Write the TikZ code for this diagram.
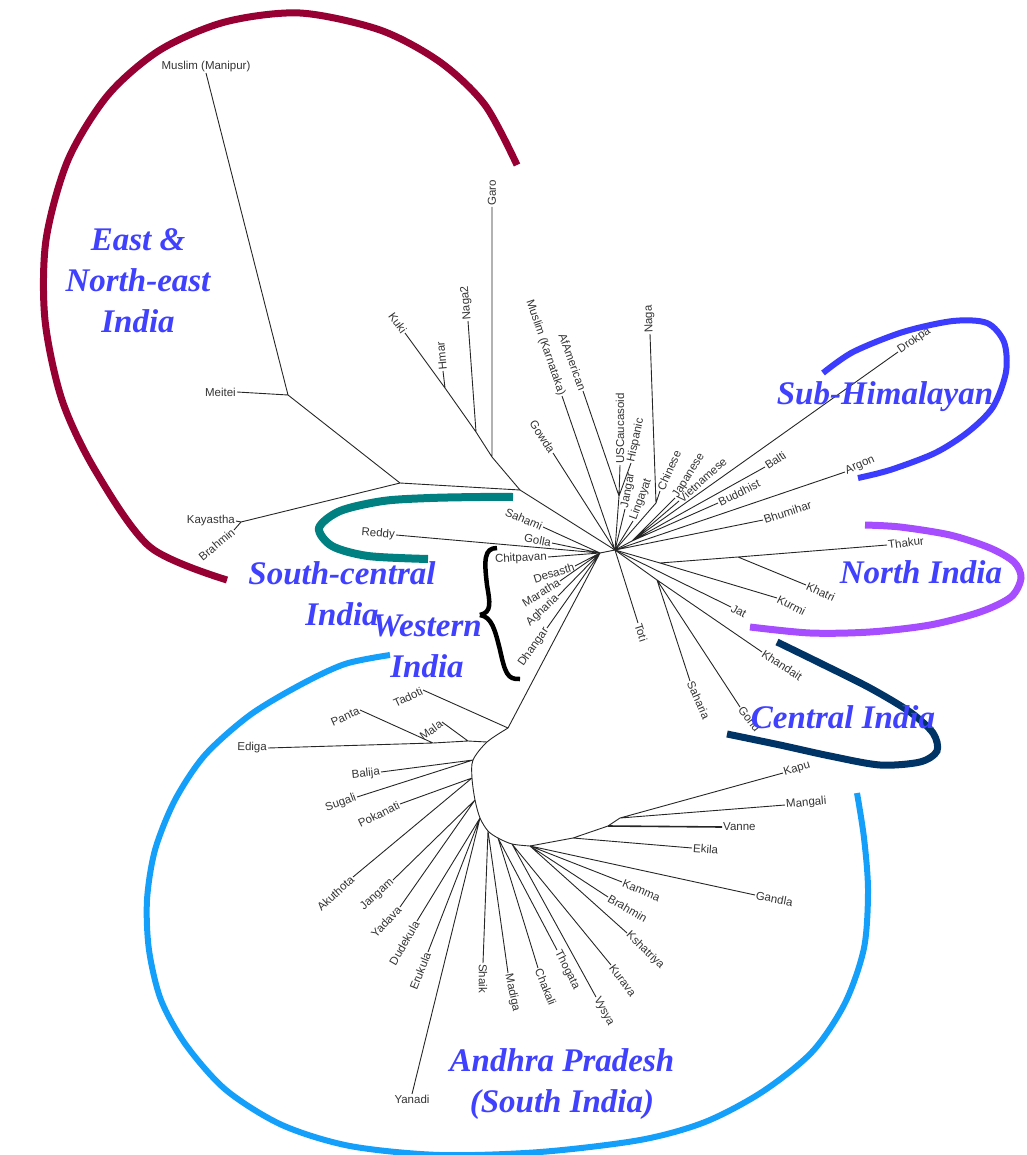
\documentclass[tikz,border=0pt]{standalone}
\usepackage{fontspec}
\newfontfamily\leaffont{Liberation Sans}
\newfontfamily\regionfont{Liberation Serif}
\definecolor{neindia}{RGB}{150,0,50}
\definecolor{scindia}{RGB}{0,128,128}
\definecolor{shindia}{RGB}{60,60,255}
\definecolor{nindia}{RGB}{166,77,255}
\definecolor{cindia}{RGB}{0,51,102}
\definecolor{apindia}{RGB}{20,160,250}
\definecolor{regionblue}{RGB}{64,64,255}
\tikzset{
  leaf/.style={font=\leaffont\fontsize{11.5}{13}\selectfont, text=black!80, inner sep=1pt},
  region/.style={font=\regionfont\bfseries\itshape\fontsize{33}{41}\selectfont, text=regionblue, align=center},
  branch/.style={line width=0.9pt, black!85},
  cluster/.style={line width=#1},
}
\begin{document}
\begin{tikzpicture}[x=1pt, y=-1pt]
        \useasboundingbox (0,0) rectangle (1026,1155);
        \coordinate (hub) at (615,550);
        \coordinate (hubw) at (600,553);
        \coordinate (u1) at (619,496);
        \coordinate (n1) at (656,503);
        \coordinate (ru) at (632,541);
        \coordinate (nc) at (660,563);
        \coordinate (nk) at (738,557);
        \coordinate (cn) at (657,580);
        \coordinate (ne1) at (520,490);
        \coordinate (g0) at (492,457);
        \coordinate (n2) at (476,432);
        \coordinate (hm) at (445,388);
        \coordinate (mm) at (400,483);
        \coordinate (me) at (288,395);
        \coordinate (kb) at (241,522);
        \coordinate (s0) at (508,728);
        \coordinate (s1) at (487,742);
        \coordinate (a3) at (468,741);
        \coordinate (a4) at (433,743);
        \coordinate (s2) at (473,760);
        \coordinate (s3) at (472,778);
        \coordinate (s4) at (475,800);
        \coordinate (s5) at (480,818);
        \coordinate (s6) at (488,831);
        \coordinate (s7) at (498,838);
        \coordinate (s8) at (512,844);
        \coordinate (s9) at (530,846);
        \coordinate (k1) at (573,838);
        \coordinate (k2) at (608,826);
        \coordinate (k3) at (620,818);

        \node [leaf, anchor=south] (mmanipur) at (206,73) {Muslim (Manipur)};
        \node [leaf, anchor=east] (meitei) at (237,392) {Meitei};
        \node [leaf, anchor=east] (kayastha) at (236,521) {Kayastha};
        \node [leaf, anchor=east, rotate=40] (brahminne) at (234,530) {Brahmin};
        \node [leaf, anchor=west, rotate=90] (garo) at (492,207) {Garo};
        \node [leaf, anchor=west, rotate=95] (nagatwo) at (468,321) {Naga2};
        \node [leaf, anchor=west, rotate=95] (hmar) at (443,371) {Hmar};
        \node [leaf, anchor=east, rotate=-54] (kuki) at (405,333) {Kuki};
        \node [leaf, anchor=east, rotate=-71] (muslimk) at (562,396) {Muslim (Karnataka)};
        \node [leaf, anchor=east, rotate=-70] (afam) at (583,391) {AfAmerican};
        \node [leaf, anchor=east, rotate=-57] (gowda) at (553,453) {Gowda};
        \node [leaf, anchor=west, rotate=90] (uscauc) at (620,465) {USCaucasoid};
        \node [leaf, anchor=west, rotate=78] (hispanic) at (631,463) {Hispanic};
        \node [leaf, anchor=west, rotate=80] (jangar) at (625,509) {Jangar};
        \node [leaf, anchor=west, rotate=70] (lingayat) at (633,521) {Lingayat};
        \node [leaf, anchor=west, rotate=92] (naga) at (650,334) {Naga};
        \node [leaf, anchor=west, rotate=66] (chinese) at (660,491) {Chinese};
        \node [leaf, anchor=west, rotate=58] (japanese) at (675,498) {Japanese};
        \node [leaf, anchor=west, rotate=42] (vietnamese) at (679,501) {Vietnamese};
        \node [leaf, anchor=west, rotate=33] (balti) at (765,467) {Balti};
        \node [leaf, anchor=west, rotate=35] (drokpa) at (898,352) {Drokpa};
        \node [leaf, anchor=west, rotate=26] (buddhist) at (718,503) {Buddhist};
        \node [leaf, anchor=west, rotate=24] (argon) at (845,472) {Argon};
        \node [leaf, anchor=west, rotate=18] (bhumihar) at (763,520) {Bhumihar};
        \node [leaf, anchor=west, rotate=7] (thakur) at (887,545) {Thakur};
        \node [leaf, anchor=west, rotate=-25] (khatri) at (806,585) {Khatri};
        \node [leaf, anchor=west, rotate=-27] (kurmi) at (777,598) {Kurmi};
        \node [leaf, anchor=west, rotate=-28] (jat) at (731,607) {Jat};
        \node [leaf, anchor=west, rotate=-33] (khandait) at (762,652) {Khandait};
        \node [leaf, anchor=west, rotate=-52] (gond) at (740,707) {Gond};
        \node [leaf, anchor=west, rotate=-66] (saharia) at (690,681) {Saharia};
        \node [leaf, anchor=west, rotate=-72] (toti) at (638,623) {Toti};
        \node [leaf, anchor=east, rotate=-23] (sahami) at (543,527) {Sahami};
        \node [leaf, anchor=east, rotate=-11] (golla) at (552,543) {Golla};
        \node [leaf, anchor=east, rotate=-4] (reddy) at (396,535) {Reddy};
        \node [leaf, anchor=east, rotate=3] (chitpavan) at (548,557) {Chitpavan};
        \node [leaf, anchor=east, rotate=18] (desasth) at (575,566) {Desasth};
        \node [leaf, anchor=east, rotate=32] (maratha) at (560,581) {Maratha};
        \node [leaf, anchor=east, rotate=43] (agharia) at (558,596) {Agharia};
        \node [leaf, anchor=east, rotate=55] (dhangar) at (547,628) {Dhangar};
        \node [leaf, anchor=east, rotate=25] (tadoti) at (423,690) {Tadoti};
        \node [leaf, anchor=east, rotate=36] (mala) at (442,722) {Mala};
        \node [leaf, anchor=east, rotate=24] (panta) at (360,710) {Panta};
        \node [leaf, anchor=east, rotate=-1] (ediga) at (268,748) {Ediga};
        \node [leaf, anchor=east, rotate=6] (balija) at (381,772) {Balija};
        \node [leaf, anchor=east, rotate=20] (sugali) at (357,797) {Sugali};
        \node [leaf, anchor=east, rotate=26] (pokanati) at (400,804) {Pokanati};
        \node [leaf, anchor=east, rotate=43] (akuthota) at (353,877) {Akuthota};
        \node [leaf, anchor=east, rotate=43] (jangam) at (393,880) {Jangam};
        \node [leaf, anchor=east, rotate=47] (yadava) at (400,907) {Yadava};
        \node [leaf, anchor=east, rotate=60] (dudekula) at (417,921) {Dudekula};
        \node [leaf, anchor=east, rotate=68] (erukula) at (428,952) {Erukula};
        \node [leaf, anchor=north] (yanadi) at (412,1094) {Yanadi};
        \node [leaf, anchor=west, rotate=-90] (shaik) at (483,963) {Shaik};
        \node [leaf, anchor=west, rotate=-78] (madiga) at (508,973) {Madiga};
        \node [leaf, anchor=west, rotate=-68] (chakali) at (538,968) {Chakali};
        \node [leaf, anchor=west, rotate=-63] (thogata) at (557,950) {Thogata};
        \node [leaf, anchor=west, rotate=-62] (vysya) at (596,997) {Vysya};
        \node [leaf, anchor=west, rotate=-53] (kurava) at (611,965) {Kurava};
        \node [leaf, anchor=west, rotate=-44] (kshatriya) at (627,933) {Kshatriya};
        \node [leaf, anchor=west, rotate=-30] (brahminap) at (608,897) {Brahmin};
        \node [leaf, anchor=west, rotate=-23] (kamma) at (622,882) {Kamma};
        \node [leaf, anchor=west, rotate=-11] (gandla) at (755,895) {Gandla};
        \node [leaf, anchor=west, rotate=-4] (ekila) at (692,848) {Ekila};
        \node [leaf, anchor=west] (vanne) at (722,827) {Vanne};
        \node [leaf, anchor=west, rotate=5] (mangali) at (785,805) {Mangali};
        \node [leaf, anchor=west, rotate=17] (kapu) at (783,773) {Kapu};

        \draw [branch] (hub) -- (u1) (hub) -- (n1) (hub) -- (ru) (hub) -- (nc) (hub) -- (cn) (hub) -- (hubw) (hub) -- (ne1);
        \draw [branch] (hub) -- (muslimk.east) (hub) -- (gowda.east) (hub) -- (jangar.west) (hub) -- (lingayat.west);
        \draw [branch] (hub) -- (argon.west) (hub) -- (bhumihar.west) (hub) -- (jat.west) (hub) -- (toti.west);
        \draw [branch] (u1) -- (uscauc.west) (u1) -- (afam.east) (u1) -- (hispanic.west);
        \draw [branch] (n1) -- (naga.west) (n1) -- (chinese.west);
        \draw [branch] (ru) -- (japanese.west) (ru) -- (vietnamese.west) (ru) -- (balti.west) (ru) -- (drokpa.west) (ru) -- (buddhist.west);
        \draw [branch] (nc) -- (nk) -- (thakur.west) (nk) -- (khatri.west) (nc) -- (kurmi.west);
        \draw [branch] (cn) -- (khandait.west) (cn) -- (gond.west) (cn) -- (saharia.west);
        \draw [branch] (hubw) -- (sahami.east) (hubw) -- (golla.east) (hubw) -- (reddy.east) (hubw) -- (chitpavan.east);
        \draw [branch] (hubw) -- (desasth.east) (hubw) -- (maratha.east) (hubw) -- (agharia.east) (hubw) -- (dhangar.east) (hubw) -- (s0);
        \draw [branch] (ne1) -- (g0) -- (garo.west) (g0) -- (n2) -- (nagatwo.west) (n2) -- (hm) -- (hmar.west) (hm) -- (kuki.east);
        \draw [branch] (ne1) -- (mm) -- (me) -- (mmanipur.south) (me) -- (meitei.east);
        \draw [branch] (mm) -- (kb) -- (kayastha.east) (kb) -- (brahminne.east);
        \draw [branch] (s0) -- (tadoti.east) (s1) -- (a3) -- (a4) -- (ediga.east) (a3) -- (mala.east) (a4) -- (panta.east);
        \draw [branch] plot [smooth] coordinates {(s0) (s1) (s2) (s3) (s4) (s5) (s6) (s7) (s8) (s9)};
        \draw [branch] (s9) -- (k1) -- (k2) -- (k3) -- (kapu.west) (k3) -- (mangali.west) (k1) -- (ekila.west);
        \draw [branch, line width=1.6pt] (k2) -- (vanne.west);
        \draw [branch] (s2) -- (balija.east) (s2) -- (sugali.east) (s3) -- (pokanati.east) (s3) -- (akuthota.east);
        \draw [branch] (s4) -- (jangam.east) (s4) -- (yadava.east) (s5) -- (dudekula.east) (s5) -- (erukula.east) (s5) -- (yanadi.north);
        \draw [branch] (s6) -- (shaik.west) (s6) -- (madiga.west) (s7) -- (chakali.west) (s7) -- (thogata.west);
        \draw [branch] (s8) -- (vysya.west) (s8) -- (kurava.west) (s9) -- (kshatriya.west) (s9) -- (brahminap.west);
        \draw [branch] (s9) -- (kamma.west) (s9) -- (gandla.west);

        \draw [cluster=7pt, neindia] plot [smooth] coordinates {(517,165) (485,105) (440,62) (380,30) (300,13) (225,22) (160,50) (108,95) (68,160) (46,240) (45,320) (62,400) (95,470) (150,547) (227,580)};
        \draw [cluster=8pt, scindia] plot [smooth] coordinates {(513,497) (480,497) (430,498) (383,501) (340,511) (319,528) (332,546) (368,556) (428,559)};
        \draw [cluster=6pt, shindia] plot [smooth] coordinates {(823,373) (853,352) (903,332) (953,321) (987,323) (1004,342) (1006,372) (993,407) (968,432) (935,453) (890,470) (858,478)};
        \draw [cluster=7pt, nindia] plot [smooth] coordinates {(865,525) (900,527) (950,535) (990,548) (1014,562) (1021,578) (1011,597) (980,612) (930,625) (870,632) (810,633) (750,627)};
        \draw [cluster=7pt, cindia] plot [smooth] coordinates {(777,642) (820,663) (870,688) (910,712) (933,733) (937,751) (920,762) (880,765) (830,756) (780,745) (727,734)};
        \draw [cluster=6pt, apindia] plot [smooth] coordinates {(390,655) (345,664) (300,685) (250,715) (205,755) (175,800) (155,850) (147,900) (149,950) (161,1000) (186,1045) (226,1090) (282,1125) (350,1146) (440,1155) (540,1152) (640,1140) (705,1122) (762,1092) (812,1052) (845,1003) (864,948) (868,890) (864,838) (857,793)};
        \draw [line width=4.5pt] (497,548) .. controls (484,548) and (484,560) .. (487,585) .. controls (490,603) and (492,612) .. (480,615);
        \draw [line width=4.5pt] (480,615) .. controls (492,617) and (495,630) .. (500,650) .. controls (505,672) and (507,680) .. (520,679);

        \node [region] (nelabel) at (138,281) {East \&\\North-east\\India};
        \node [region] (shlabel) at (885,397) {Sub-Himalayan};
        \node [region] (sclabel) at (342,594) {South-central\\India};
        \node [region] (wlabel) at (427,646) {Western\\India};
        \node [region] (nlabel) at (921,572) {North India};
        \node [region] (clabel) at (843,717) {Central India};
        \node [region] (aplabel) at (562,1084) {Andhra Pradesh\\(South India)};
\end{tikzpicture}
\end{document}
